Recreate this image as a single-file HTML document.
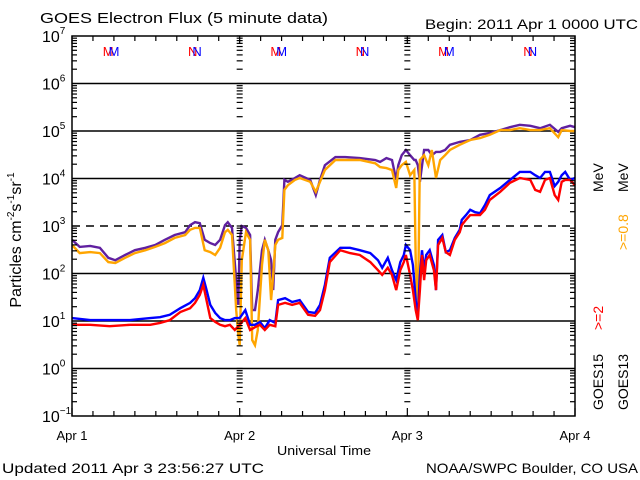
<!DOCTYPE html>
<html><head><meta charset="utf-8"><style>
html,body{margin:0;padding:0;background:#fff;}
svg{display:block;font-family:"Liberation Sans",sans-serif;}
</style></head><body>
<svg id="chart" width="640" height="480" viewBox="0 0 640 480">
<rect x="0" y="0" width="640" height="480" fill="#fff"/>
<text x="40" y="23" font-size="15" fill="#000" textLength="288" lengthAdjust="spacingAndGlyphs">GOES Electron Flux (5 minute data)</text>
<text x="425" y="29" font-size="14" fill="#000" textLength="213" lengthAdjust="spacingAndGlyphs">Begin: 2011 Apr 1 0000 UTC</text>
<text transform="translate(21,240) rotate(-90)" font-size="16" text-anchor="middle" fill="#000">Particles cm<tspan font-size="10" dy="-7">-2</tspan><tspan dy="7">s</tspan><tspan font-size="10" dy="-7">-1</tspan><tspan dy="7">sr</tspan><tspan font-size="10" dy="-7">-1</tspan></text>
<text x="277" y="455" font-size="13" fill="#000" textLength="94" lengthAdjust="spacingAndGlyphs">Universal Time</text>
<text x="2" y="473" font-size="14" fill="#000" textLength="262" lengthAdjust="spacingAndGlyphs">Updated 2011 Apr  3 23:56:27 UTC</text>
<text x="426" y="473" font-size="14" fill="#000" textLength="212" lengthAdjust="spacingAndGlyphs">NOAA/SWPC Boulder, CO USA</text>
<g>
<text transform="translate(603,410) rotate(-90)" font-size="14" fill="#000">GOES15</text>
<text transform="translate(603,330) rotate(-90)" font-size="14" fill="#ff0000">&gt;=2</text>
<text transform="translate(603,192) rotate(-90)" font-size="14" fill="#000">MeV</text>
</g>
<g>
<text transform="translate(628,410) rotate(-90)" font-size="14" fill="#000">GOES13</text>
<text transform="translate(628,250) rotate(-90)" font-size="14" fill="#ffa500">&gt;=0.8</text>
<text transform="translate(628,192) rotate(-90)" font-size="14" fill="#000">MeV</text>
</g>
<g id="grid"></g>
<g id="series"></g>
<g id="axes"></g>
</svg>
<script>
const dayLabels = ["Apr 1","Apr 2","Apr 3","Apr 4"];
const decadeExps = [-1,0,1,2,3,4,5,6,7];
const hoursA = [0,1.1,2.6,4.0,5.2,6.2,7.6,9.0,10.5,11.9,13.3,14.7,16.2,16.9,17.6,18.3,19.0,19.8,20.5,21.2,21.9,22.3,22.9,23.5,23.8,24.0,24.3,24.9,25.5,25.8,26.2,26.6,27.2,27.6,28.1,28.5,28.8,29.1,29.5,30.1,30.4,30.9,31.9,32.6,34.1,34.9,35.5,36.2,37.7,39.1,41.2,43.4,44.1,45.0,45.8,46.4,46.7,47.2,47.8,48.4,49.0,49.2,49.5,49.8,50.4,51.0,51.5,52.1,52.7,53.4,54.1,55.5,57.0,58.4,59.8,61.3,62.7,64.1,65.6,67.0,68.4,69.6,70.1,71.3,72];
const goes15Low = [2.71,2.56,2.58,2.54,2.33,2.28,2.39,2.49,2.54,2.60,2.71,2.81,2.87,3.02,3.08,3.06,2.71,2.64,2.60,2.71,3.02,3.08,2.96,1.86,1.34,2.71,3.00,2.96,2.81,1.23,1.23,1.65,2.49,2.71,2.49,2.28,1.65,2.71,2.87,3.02,3.97,3.93,4.01,4.07,3.97,3.65,3.97,4.28,4.45,4.45,4.43,4.39,4.35,4.43,4.39,3.97,4.28,4.49,4.60,4.49,4.39,4.39,4.28,3.93,4.60,4.60,4.49,4.56,4.56,4.60,4.71,4.77,4.81,4.92,4.96,5.02,5.08,5.13,5.11,5.06,5.13,4.98,5.06,5.11,5.08];
const goes13Low = [2.60,2.43,2.45,2.43,2.24,2.22,2.33,2.43,2.49,2.56,2.64,2.75,2.81,2.92,2.96,2.96,2.49,2.45,2.39,2.54,2.87,2.92,2.81,1.23,0.71,0.49,2.28,2.87,2.71,0.60,0.49,0.81,2.18,2.71,2.49,1.44,1.97,2.60,2.71,2.75,3.76,3.86,3.97,4.01,3.93,3.72,3.93,4.18,4.39,4.39,4.39,4.32,4.24,4.22,4.18,3.80,4.18,4.28,4.35,4.07,4.18,2.28,1.02,4.39,4.49,4.28,4.60,4.01,4.39,4.49,4.60,4.71,4.81,4.85,4.92,5.02,5.02,5.06,5.02,5.02,5.06,4.87,5.02,5.00,5.00];
const hoursB = [0,2.6,5.4,8.3,11.2,12.6,14.0,15.5,16.9,17.6,18.3,18.8,19.2,19.8,20.5,21.2,21.9,22.6,23.3,24.0,24.8,25.5,26.2,26.9,27.6,28.3,29.1,29.5,30.5,31.5,32.6,33.8,34.8,35.5,36.2,36.9,38.4,39.8,41.2,42.7,43.8,44.4,45.2,45.8,46.4,47.0,47.5,47.8,48.4,48.8,49.2,49.5,49.8,50.1,50.4,50.7,51.2,51.8,52.1,52.4,53.0,53.5,54.1,54.8,55.5,55.8,56.4,57.0,57.7,58.4,59.1,59.8,61.3,62.7,64.1,65.6,66.3,67.0,67.7,68.4,69.1,69.6,70.1,70.6,71.3,72];
const goes15High = [1.06,1.02,1.02,1.02,1.06,1.08,1.13,1.27,1.38,1.48,1.65,1.91,1.69,1.34,1.17,1.06,1.02,1.02,1.06,1.06,1.23,0.92,0.92,0.98,0.85,1.02,0.96,1.44,1.48,1.40,1.44,1.19,1.17,1.34,1.76,2.33,2.54,2.54,2.49,2.43,2.28,2.12,2.33,2.07,1.86,2.24,2.39,2.60,2.49,2.18,1.44,1.06,1.97,2.49,2.07,2.39,2.49,2.18,1.65,2.71,2.81,2.45,2.49,2.75,2.92,3.13,3.23,3.34,3.29,3.27,3.44,3.65,3.80,3.97,4.14,4.14,4.07,4.01,4.14,4.14,3.84,3.93,4.07,4.14,3.97,4.01];
const goes13High = [0.92,0.92,0.89,0.92,0.92,0.96,1.02,1.19,1.27,1.38,1.55,1.76,1.48,1.06,0.98,0.92,0.89,0.92,0.81,0.92,1.06,0.81,0.87,0.92,0.81,0.92,0.89,1.34,1.38,1.34,1.38,1.13,1.11,1.23,1.65,2.24,2.49,2.43,2.39,2.24,2.07,1.97,2.12,1.97,1.65,2.07,2.24,2.39,1.97,1.65,1.23,1.02,1.65,2.39,1.86,2.28,2.39,2.07,1.65,2.60,2.75,2.45,2.39,2.71,2.87,3.02,3.13,3.23,3.23,3.23,3.34,3.55,3.72,3.91,4.01,3.97,3.76,3.72,3.97,4.01,3.65,3.55,3.93,3.97,3.97,3.86];

const NS = "http://www.w3.org/2000/svg";
const X0 = 72, X1 = 575, Y0 = 36, Y1 = 416;
const xS = h => X0 + h * (X1 - X0) / 72;
const yS = v => Y0 + (7 - v) * (Y1 - Y0) / 8;
function mk(tag, attrs, parent) {
  const e = document.createElementNS(NS, tag);
  for (const k in attrs) e.setAttribute(k, attrs[k]);
  parent.appendChild(e);
  return e;
}
const grid = document.getElementById('grid');
const axes = document.getElementById('axes');
const series = document.getElementById('series');

decadeExps.forEach(ex => {
  if (ex === 7 || ex === -1) return;
  const l = mk('line', {x1: X0, x2: X1, y1: yS(ex), y2: yS(ex), stroke: '#000', 'stroke-width': 1.5}, grid);
  if (ex === 3) l.setAttribute('stroke-dasharray', '8,6');
  
  
});

const fr = mk('rect', {x: X0, y: Y0, width: X1 - X0, height: Y1 - Y0, fill: 'none', stroke: '#000', 'stroke-width': 1.5}, axes);



const tickXs = [X0, xS(24), xS(48), X1];
for (let ex = -1; ex < 7; ex++) {
  for (let m = 2; m <= 9; m++) {
    const y = yS(ex + Math.log10(m));
    tickXs.forEach((tx, i) => {
      const len = 5;
      let xa, xb;
      if (i === 0) { xa = tx; xb = tx + len; }
      else if (i === 3) { xa = tx - len; xb = tx; }
      else { xa = tx - 3; xb = tx + 3; }
      const t = mk('line', {x1: xa, x2: xb, y1: y, y2: y, stroke: '#000', 'stroke-width': 1.2}, axes);
      
      
    });
  }
}
[xS(24), xS(48)].forEach(tx => {
  for (let ex = -1; ex <= 7; ex++) {
    const t = mk('line', {x1: tx - 3, x2: tx + 3, y1: yS(ex), y2: yS(ex), stroke: '#000', 'stroke-width': 1.2}, axes);
    
    
  }
});
for (let h = 0; h <= 72; h += 3) {
  const x = xS(h);
  const len = (h % 24 === 0) ? 8 : 5;
  const a = mk('line', {x1: x, x2: x, y1: Y1, y2: Y1 - len, stroke: '#000', 'stroke-width': 1.2}, axes);
  
  
  const b = mk('line', {x1: x, x2: x, y1: Y0, y2: Y0 + len, stroke: '#000', 'stroke-width': 1.2}, axes);
  
  
}
decadeExps.forEach(ex => {
  const t = mk('text', {x: 42, y: yS(ex) + 6, 'font-size': 16, fill: '#000'}, axes);
  
  
  t.textContent = '10';
  const s = mk('tspan', {'font-size': 10, dy: -8}, t);
  s.textContent = String(ex).replace('-', '\u2212');
});
dayLabels.forEach((d, i) => {
  const t = mk('text', {x: xS(i * 24), y: 440, 'font-size': 13, 'text-anchor': 'middle', fill: '#000'}, axes);
  
  
  t.textContent = d;
});
[[4.4, 'M'], [16.6, 'N'], [28.4, 'M'], [40.6, 'N'], [52.4, 'M'], [64.6, 'N']].forEach(([h, ch]) => {
  const t = mk('text', {x: xS(h), y: 56, 'font-size': 13, fill: '#ff0000'}, axes);
  
  
  t.textContent = ch;
  const b = mk('tspan', {fill: '#0000ff', dx: -5}, t);
  b.textContent = ch;
});

function drawLine(hs, vals, color, name) {
  const pts = hs.map((h, i) => xS(h).toFixed(1) + ',' + yS(vals[i]).toFixed(1)).join(' ');
  const p = mk('polyline', {points: pts, fill: 'none', stroke: color, 'stroke-width': 2.4, 'stroke-linejoin': 'miter'}, series);
  
  
}
drawLine(hoursA, goes15Low, '#6020a0', 'series-goes15-0.8mev');
drawLine(hoursA, goes13Low, '#ffa500', 'series-goes13-0.8mev');
drawLine(hoursB, goes15High, '#0000ff', 'series-goes15-2mev');
drawLine(hoursB, goes13High, '#ff0000', 'series-goes13-2mev');
</script>
</body></html>
